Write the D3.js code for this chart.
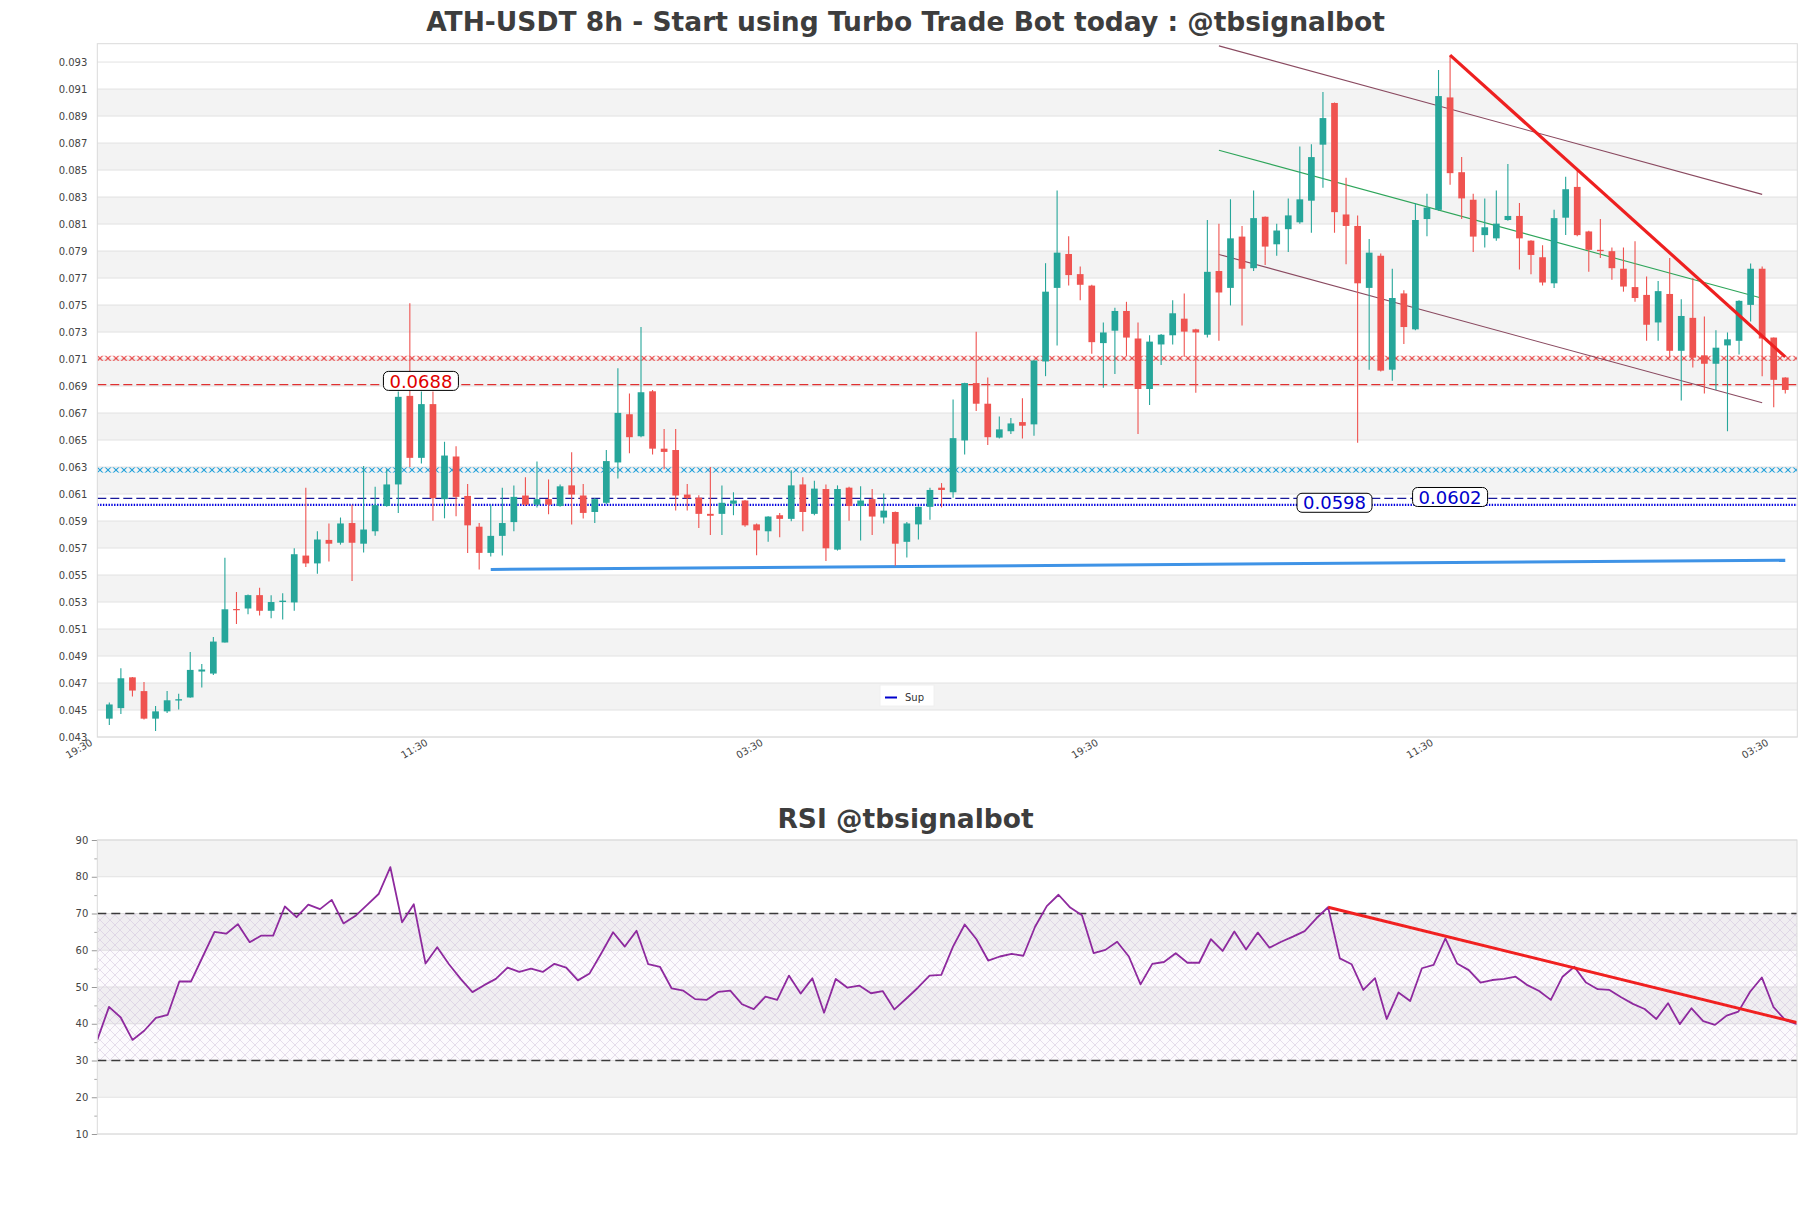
<!DOCTYPE html>
<html><head><meta charset="utf-8">
<script src="https://cdn.jsdelivr.net/npm/d3@7"></script>
<style>
body{margin:0;background:#fff;}
svg{display:block;font-family:"DejaVu Sans",sans-serif;}
</style>
</head><body>
<script>
// ---------------- DATA ----------------
const chartTitle = "ATH-USDT 8h - Start using Turbo Trade Bot today : @tbsignalbot";
const rsiTitle = "RSI @tbsignalbot";

const openPx = [
0.04436,0.04514,0.04742,0.04640,0.04436,0.04490,0.04570,0.04593,0.04785,0.04770,
0.05000,0.05248,0.05252,0.05351,0.05235,0.05300,0.05297,0.05644,0.05586,0.05760,
0.05739,0.05885,0.05732,0.05824,0.06011,0.06171,0.06827,0.06368,0.06766,0.06062,
0.06378,0.06086,0.05858,0.05664,0.05790,0.05892,0.06089,0.06021,0.06062,0.06011,
0.06164,0.06089,0.05967,0.06035,0.06334,0.06691,0.06528,0.06861,0.06436,0.06426,
0.06096,0.06073,0.05953,0.05953,0.06028,0.06052,0.05875,0.05824,0.05943,0.05916,
0.06171,0.05953,0.06137,0.05688,0.06147,0.06011,0.06062,0.05926,0.05967,0.05746,
0.05875,0.06005,0.06147,0.06113,0.06497,0.06922,0.06769,0.06518,0.06565,0.06633,
0.06616,0.07082,0.07627,0.07878,0.07729,0.07644,0.07218,0.07310,0.07456,0.07252,
0.06878,0.07208,0.07276,0.07399,0.07320,0.07280,0.07752,0.07627,0.08007,0.07773,
0.08154,0.07950,0.08062,0.08113,0.08273,0.08688,0.08997,0.08171,0.08086,0.07627,
0.07865,0.07021,0.07586,0.07320,0.08137,0.08205,0.09038,0.08484,0.08280,0.08018,
0.07994,0.08130,0.08160,0.07977,0.07854,0.07661,0.08147,0.08375,0.08045,0.07909,
0.07899,0.07769,0.07633,0.07575,0.07371,0.07582,0.07161,0.07405,0.07127,0.07065,
0.07201,0.07235,0.07501,0.07769,0.07259,0.06963];

const highPx = [
0.04555,0.04810,0.04745,0.04708,0.04530,0.04640,0.04620,0.04930,0.04841,0.05040,
0.05627,0.05375,0.05355,0.05405,0.05350,0.05365,0.05698,0.06147,0.05824,0.05882,
0.05926,0.06021,0.06307,0.06154,0.06283,0.06860,0.07514,0.06860,0.06860,0.06487,
0.06453,0.06174,0.05885,0.06021,0.06147,0.06164,0.06225,0.06341,0.06208,0.06170,
0.06409,0.06174,0.06070,0.06426,0.07031,0.06844,0.07337,0.06871,0.06582,0.06582,
0.06174,0.06090,0.06300,0.06164,0.06113,0.06055,0.05882,0.05935,0.05960,0.06276,
0.06225,0.06198,0.06171,0.06164,0.06154,0.06157,0.06137,0.06103,0.05970,0.05892,
0.06010,0.06147,0.06181,0.06800,0.06925,0.07303,0.06963,0.06674,0.06664,0.06810,
0.07090,0.07810,0.08348,0.08010,0.07786,0.07650,0.07371,0.07480,0.07524,0.07371,
0.07276,0.07285,0.07535,0.07586,0.07325,0.08130,0.08103,0.08283,0.08086,0.08348,
0.08155,0.08103,0.08290,0.08674,0.08691,0.09079,0.09000,0.08443,0.08164,0.07990,
0.07882,0.07769,0.07610,0.08256,0.08324,0.09242,0.09350,0.08596,0.08324,0.08290,
0.08348,0.08545,0.08256,0.07980,0.07943,0.08205,0.08450,0.08494,0.08050,0.08137,
0.07926,0.07926,0.07973,0.07712,0.07678,0.07848,0.07542,0.07701,0.07416,0.07314,
0.07297,0.07535,0.07807,0.07786,0.07260,0.06965];

const lowPx = [
0.04388,0.04470,0.04600,0.04430,0.04344,0.04477,0.04504,0.04590,0.04667,0.04760,
0.05000,0.05137,0.05210,0.05201,0.05180,0.05170,0.05235,0.05560,0.05510,0.05600,
0.05725,0.05456,0.05667,0.05790,0.06005,0.05960,0.06300,0.06327,0.05902,0.05920,
0.05936,0.05664,0.05541,0.05637,0.05644,0.05824,0.06011,0.06001,0.05950,0.06005,
0.05875,0.05919,0.05885,0.06025,0.06215,0.06402,0.06520,0.06392,0.06283,0.05977,
0.05977,0.05848,0.05797,0.05797,0.05943,0.05858,0.05647,0.05746,0.05780,0.05899,
0.05824,0.05943,0.05603,0.05681,0.05902,0.05756,0.05797,0.05882,0.05569,0.05630,
0.05763,0.05909,0.06001,0.06072,0.06392,0.06715,0.06463,0.06511,0.06545,0.06511,
0.06531,0.06973,0.07201,0.07644,0.07535,0.07140,0.06888,0.06990,0.07123,0.06545,
0.06759,0.07055,0.07208,0.07116,0.06851,0.07259,0.07235,0.07497,0.07348,0.07752,
0.07797,0.07865,0.07892,0.08103,0.08035,0.08368,0.08035,0.07803,0.06480,0.07021,
0.07007,0.06940,0.07212,0.07314,0.08010,0.08198,0.08392,0.08137,0.07892,0.07926,
0.07977,0.08125,0.07763,0.07729,0.07644,0.07627,0.08018,0.08010,0.07746,0.07848,
0.07688,0.07599,0.07524,0.07235,0.07235,0.07106,0.06793,0.07038,0.06844,0.06871,
0.06565,0.07133,0.07378,0.06973,0.06742,0.06844];

const closePx = [
0.04541,0.04735,0.04644,0.04436,0.04490,0.04572,0.04580,0.04797,0.04800,0.05007,
0.05246,0.05240,0.05351,0.05235,0.05300,0.05310,0.05654,0.05586,0.05763,0.05732,
0.05882,0.05739,0.05837,0.06018,0.06171,0.06820,0.06368,0.06766,0.06069,0.06385,
0.06079,0.05868,0.05664,0.05790,0.05885,0.06079,0.06021,0.06062,0.06021,0.06157,
0.06096,0.05960,0.06062,0.06344,0.06701,0.06521,0.06854,0.06436,0.06412,0.06089,
0.06069,0.05953,0.05939,0.06035,0.06052,0.05868,0.05831,0.05933,0.05916,0.06164,
0.05967,0.06140,0.05698,0.06137,0.06011,0.06052,0.05933,0.05977,0.05732,0.05882,
0.06005,0.06130,0.06130,0.06514,0.06922,0.06769,0.06521,0.06579,0.06623,0.06606,
0.07089,0.07599,0.07888,0.07722,0.07650,0.07225,0.07297,0.07456,0.07259,0.06878,
0.07229,0.07280,0.07439,0.07303,0.07297,0.07746,0.07593,0.07994,0.07769,0.08144,
0.07933,0.08052,0.08164,0.08283,0.08596,0.08885,0.08188,0.08086,0.07661,0.07888,
0.07014,0.07552,0.07337,0.08130,0.08222,0.09048,0.08477,0.08290,0.08007,0.08076,
0.08103,0.08160,0.07994,0.07871,0.07667,0.08144,0.08358,0.08018,0.07909,0.07899,
0.07773,0.07637,0.07552,0.07354,0.07603,0.07161,0.07419,0.07110,0.07065,0.07184,
0.07246,0.07531,0.07769,0.07252,0.06946,0.06871];

const rsiValues = [
35.6,44.6,41.7,35.6,38.1,41.6,42.4,51.5,51.5,58.3,
65.0,64.5,67.1,62.2,64.0,64.0,71.9,69.0,72.4,71.2,
73.7,67.3,69.3,72.3,75.3,82.6,67.6,72.5,56.4,60.8,
56.2,52.2,48.6,50.5,52.2,55.3,54.1,55.0,54.1,56.3,
55.3,51.8,53.7,59.2,64.9,61.0,65.3,56.2,55.5,49.6,
49.0,46.7,46.5,48.7,49.0,45.3,44.0,47.4,46.5,53.1,
48.2,52.4,43.0,52.2,49.8,50.4,48.3,48.9,43.9,46.8,
49.8,53.1,53.3,61.0,67.0,63.0,57.2,58.3,59.0,58.5,
66.4,72.0,75.1,71.6,69.5,59.2,60.1,62.3,58.3,50.7,
56.3,56.8,59.2,56.6,56.6,63.0,59.8,65.1,60.2,64.8,
60.7,62.3,63.7,65.2,68.7,71.7,57.8,56.2,49.2,52.4,
41.3,48.5,46.2,55.1,56.0,63.2,56.4,54.6,51.2,51.9,
52.2,52.8,50.5,48.9,46.5,52.8,55.5,51.2,49.4,49.2,
47.2,45.4,44.0,41.3,45.6,39.9,44.2,40.7,39.7,42.2,
43.3,48.7,52.6,44.5,41.0,39.9];

const xTickIndex = [0, 29, 58, 87, 116, 145];
const xTickLabels = ["19:30", "11:30", "03:30", "19:30", "11:30", "03:30"];

const priceTicks = [0.043,0.045,0.047,0.049,0.051,0.053,0.055,0.057,0.059,0.061,0.063,0.065,0.067,
  0.069,0.071,0.073,0.075,0.077,0.079,0.081,0.083,0.085,0.087,0.089,0.091,0.093];
const priceTickLabels = ["0.043","0.045","0.047","0.049","0.051","0.053","0.055","0.057","0.059","0.061",
  "0.063","0.065","0.067","0.069","0.071","0.073","0.075","0.077","0.079","0.081","0.083","0.085",
  "0.087","0.089","0.091","0.093"];
const rsiTicks = [10, 20, 30, 40, 50, 60, 70, 80, 90];
const rsiMinorTicks = [15, 25, 35, 45, 55, 65, 75, 85];
const rsiLevels = [30, 70];

// horizontal levels (price)
const hatchLevels = [{p: 0.07105, name: "red"}, {p: 0.06278, name: "cyan"}];
const resistLevel = 0.0691;
const supportDashLevel = 0.06068;
const supLevel = 0.06019;

// price labels: text, candle index, price
const priceLabels = [
  {text: "0.0688", i: 26.96, p: 0.06938, kind: "red"},
  {text: "0.0598", i: 106.0, p: 0.06035, kind: "blue"},
  {text: "0.0602", i: 116.0, p: 0.06078, kind: "blue"}
];

// trend lines: [index, price] pairs
const supportTrend = [[33, 0.05541], [145, 0.05610]];
const channelUpper = [[96, 0.09420], [143, 0.08320]];
const channelMid   = [[96, 0.08647], [143, 0.07550]];
const channelLower = [[96, 0.07875], [143, 0.06776]];
const resistTrend  = [[116, 0.09351], [145, 0.07116]];
const rsiTrend     = [[105, 71.7], [145, 40.3]];
const legendLabels = ["Sup"];

// ---------------- CHART ----------------
const W = 1811, H = 1208;
const svg = d3.select("body").append("svg").attr("width", W).attr("height", H);
const defs = svg.append("defs");

const mainBox = {l: 97.3, r: 1797.3, t: 43.7, b: 737};
const rsiBox = {l: 97.3, r: 1797, t: 840, b: 1134};

const x = d3.scaleLinear().domain([-1.04, 146.04]).range([mainBox.l, mainBox.r]);
const y = d3.scaleLinear().domain([0.043, 0.09436]).range([mainBox.b, mainBox.t]);
const xr = d3.scaleLinear().domain([0, 145]).range([rsiBox.l, rsiBox.r]);
const yr = d3.scaleLinear().domain([10, 90]).range([rsiBox.b, rsiBox.t]);

const UP = "#26a69a", DOWN = "#ef5350";
const hatchColors = {red: "#e63a3a", cyan: "#1fa0da"};

defs.append("clipPath").attr("id", "clipMain").append("rect")
  .attr("x", mainBox.l).attr("y", mainBox.t).attr("width", mainBox.r - mainBox.l).attr("height", mainBox.b - mainBox.t);
defs.append("clipPath").attr("id", "clipRsi").append("rect")
  .attr("x", rsiBox.l).attr("y", rsiBox.t).attr("width", rsiBox.r - rsiBox.l).attr("height", rsiBox.b - rsiBox.t);

hatchLevels.forEach(h => {
  const pat = defs.append("pattern").attr("id", "hatch-" + h.name)
    .attr("patternUnits", "userSpaceOnUse").attr("width", 8).attr("height", 8)
    .attr("patternTransform", `translate(0,${y(h.p) - 4})`);
  pat.append("path").attr("d", "M-1,-1 L9,9 M-1,9 L9,-1")
    .attr("stroke", hatchColors[h.name]).attr("stroke-width", 1.1).attr("fill", "none");
});
const rp = defs.append("pattern").attr("id", "rsiHatch")
  .attr("patternUnits", "userSpaceOnUse").attr("width", 10).attr("height", 10);
rp.append("path").attr("d", "M-1,-1 L11,11 M-1,11 L11,-1 M-6,4 L4,-6 M6,16 L16,6 M4,16 L-6,6 M16,4 L6,-6")
  .attr("stroke", "#d2c4dc").attr("stroke-width", 0.55).attr("fill", "none");

// Titles
svg.append("text").attr("x", W / 2).attr("y", 30.5).attr("text-anchor", "middle")
  .attr("font-size", 26.5).attr("font-weight", "bold").attr("fill", "#3d3d3d").text(chartTitle);
svg.append("text").attr("x", W / 2).attr("y", 827.5).attr("text-anchor", "middle")
  .attr("font-size", 26.5).attr("font-weight", "bold").attr("fill", "#3d3d3d").text(rsiTitle);

// ---- main panel background ----
const gMain = svg.append("g");
const gBg = gMain.append("g");
priceTicks.forEach((t, i) => {
  if (i % 2 === 1 && i + 1 < priceTicks.length) {
    gBg.append("rect").attr("x", mainBox.l).attr("width", mainBox.r - mainBox.l)
      .attr("y", y(priceTicks[i + 1])).attr("height", y(priceTicks[i]) - y(priceTicks[i + 1]))
      .attr("fill", "#f3f3f3");
  }
});
gBg.selectAll("line.grid").data(priceTicks).join("line")
  .attr("x1", mainBox.l).attr("x2", mainBox.r)
  .attr("y1", d => y(d)).attr("y2", d => y(d))
  .attr("stroke", "#e2e2e2").attr("stroke-width", 1);

// y axis
const yAxis = d3.axisLeft(y).tickValues(priceTicks).tickFormat((d, i) => priceTickLabels[i])
  .tickSize(0).tickPadding(10);
const gy = gMain.append("g").attr("transform", `translate(${mainBox.l},0)`).call(yAxis);
gy.select(".domain").remove();
gy.selectAll("text").attr("font-size", 10).attr("fill", "#444").attr("font-family", "DejaVu Sans");

// x tick labels
gMain.selectAll("text.xt").data(xTickIndex).join("text")
  .attr("class", "xt")
  .attr("transform", d => `translate(${x(d) - 16},744.5) rotate(-30)`)
  .attr("text-anchor", "end").attr("font-size", 10).attr("fill", "#444")
  .text((d, i) => xTickLabels[i]);

const gPlot = gMain.append("g").attr("clip-path", "url(#clipMain)");

// hatched levels
gPlot.selectAll("rect.hatch").data(hatchLevels).join("rect")
  .attr("x", mainBox.l).attr("width", mainBox.r - mainBox.l)
  .attr("y", d => y(d.p) - 2.6).attr("height", 5.2)
  .attr("fill", d => `url(#hatch-${d.name})`);

// horizontal lines
gPlot.append("line").attr("x1", mainBox.l).attr("x2", mainBox.r)
  .attr("y1", y(resistLevel)).attr("y2", y(resistLevel))
  .attr("stroke", "#e03030").attr("stroke-width", 1.2).attr("stroke-dasharray", "9,4");
gPlot.append("line").attr("x1", mainBox.l).attr("x2", mainBox.r)
  .attr("y1", y(supportDashLevel)).attr("y2", y(supportDashLevel))
  .attr("stroke", "#1a1a9c").attr("stroke-width", 1.2).attr("stroke-dasharray", "9,4");
gPlot.append("line").attr("x1", mainBox.l).attr("x2", mainBox.r)
  .attr("y1", y(supLevel)).attr("y2", y(supLevel))
  .attr("stroke", "#0000e0").attr("stroke-width", 2.2).attr("stroke-dasharray", "1.4,1.4");

// channel lines
const tl = d3.line().x(d => x(d[0])).y(d => y(d[1]));
gPlot.append("path").attr("d", tl(channelUpper)).attr("stroke", "#8a4a60").attr("stroke-width", 1.1).attr("fill", "none");
gPlot.append("path").attr("d", tl(channelLower)).attr("stroke", "#8a4a60").attr("stroke-width", 1.1).attr("fill", "none");
gPlot.append("path").attr("d", tl(channelMid)).attr("stroke", "#2ea55a").attr("stroke-width", 1.1).attr("fill", "none");

// support trend
gPlot.append("path").attr("d", tl(supportTrend)).attr("stroke", "#3f93e6").attr("stroke-width", 3).attr("fill", "none");

// candles
const candles = openPx.map((o, i) => ({i, o, h: highPx[i], l: lowPx[i], c: closePx[i]}));
const bodyW = 6.7;
gPlot.selectAll("line.wick").data(candles).join("line")
  .attr("x1", d => x(d.i)).attr("x2", d => x(d.i))
  .attr("y1", d => y(d.h)).attr("y2", d => y(d.l))
  .attr("stroke", d => d.c >= d.o ? UP : DOWN).attr("stroke-width", 1.1);
gPlot.selectAll("rect.body").data(candles).join("rect")
  .attr("x", d => x(d.i) - bodyW / 2).attr("width", bodyW)
  .attr("y", d => y(Math.max(d.o, d.c)))
  .attr("height", d => Math.max(1.2, Math.abs(y(d.o) - y(d.c))))
  .attr("fill", d => d.c >= d.o ? UP : DOWN);

// resistance trend
gPlot.append("path").attr("d", tl(resistTrend)).attr("stroke", "#ee2020").attr("stroke-width", 3.2).attr("fill", "none");

// price labels
priceLabels.forEach(lb => {
  const cx = x(lb.i), cy = y(lb.p);
  const g = gMain.append("g");
  g.append("rect").attr("x", cx - 37.5).attr("y", cy - 9.5).attr("width", 75).attr("height", 19)
    .attr("rx", 5).attr("ry", 5).attr("fill", "#fff").attr("stroke", "#000").attr("stroke-width", 1);
  g.append("text").attr("x", cx).attr("y", cy + 6.6).attr("text-anchor", "middle")
    .attr("font-size", 18).attr("fill", lb.kind === "red" ? "#e00000" : "#0000cc").text(lb.text);
});

// legend
const lg = gMain.append("g");
lg.append("rect").attr("x", 880).attr("y", 685).attr("width", 54).attr("height", 21)
  .attr("fill", "#fff").attr("stroke", "#f0f0f0");
lg.append("line").attr("x1", 885).attr("x2", 897).attr("y1", 697.5).attr("y2", 697.5)
  .attr("stroke", "#0000cc").attr("stroke-width", 2);
lg.append("text").attr("x", 905).attr("y", 701).attr("font-size", 10).attr("fill", "#333").text(legendLabels[0]);

// main border
gMain.append("rect").attr("x", mainBox.l).attr("y", mainBox.t)
  .attr("width", mainBox.r - mainBox.l).attr("height", mainBox.b - mainBox.t)
  .attr("fill", "none").attr("stroke", "#dadada").attr("stroke-width", 1);

// ---- RSI panel ----
const gR = svg.append("g");
rsiTicks.forEach((t, i) => {
  if (i % 2 === 1 && i + 1 < rsiTicks.length) {
    gR.append("rect").attr("x", rsiBox.l).attr("width", rsiBox.r - rsiBox.l)
      .attr("y", yr(rsiTicks[i + 1])).attr("height", yr(rsiTicks[i]) - yr(rsiTicks[i + 1]))
      .attr("fill", "#f3f3f3");
  }
});
gR.selectAll("line.rg").data(rsiTicks).join("line")
  .attr("x1", rsiBox.l).attr("x2", rsiBox.r)
  .attr("y1", d => yr(d)).attr("y2", d => yr(d))
  .attr("stroke", "#e2e2e2").attr("stroke-width", 1);
gR.append("rect").attr("x", rsiBox.l).attr("width", rsiBox.r - rsiBox.l)
  .attr("y", yr(rsiLevels[1])).attr("height", yr(rsiLevels[0]) - yr(rsiLevels[1]))
  .attr("fill", "rgba(200,170,220,0.06)");
gR.append("rect").attr("x", rsiBox.l).attr("width", rsiBox.r - rsiBox.l)
  .attr("y", yr(rsiLevels[1])).attr("height", yr(rsiLevels[0]) - yr(rsiLevels[1]))
  .attr("fill", "url(#rsiHatch)");
gR.selectAll("line.lvl").data(rsiLevels).join("line")
  .attr("x1", rsiBox.l).attr("x2", rsiBox.r)
  .attr("y1", d => yr(d)).attr("y2", d => yr(d))
  .attr("stroke", "#3a3a3a").attr("stroke-width", 1.3).attr("stroke-dasharray", "9,5");

const ryAxis = d3.axisLeft(yr).tickValues(rsiTicks).tickSize(5.5).tickPadding(3.5);
const gry = gR.append("g").attr("transform", `translate(${rsiBox.l},0)`).call(ryAxis);
gry.select(".domain").remove();
gry.selectAll("line").attr("stroke", "#999");
gry.selectAll("text").attr("font-size", 10).attr("fill", "#444").attr("font-family", "DejaVu Sans");
const ryMinor = d3.axisLeft(yr).tickValues(rsiMinorTicks).tickSize(3).tickFormat("");
const grm = gR.append("g").attr("transform", `translate(${rsiBox.l},0)`).call(ryMinor);
grm.select(".domain").remove();
grm.selectAll("line").attr("stroke", "#aaa");

const gRp = gR.append("g").attr("clip-path", "url(#clipRsi)");
const rsiLine = d3.line().x((d, i) => xr(i)).y(d => yr(d));
gRp.append("path").attr("d", rsiLine(rsiValues)).attr("fill", "none")
  .attr("stroke", "#8e2a9e").attr("stroke-width", 1.8).attr("stroke-linejoin", "round");
const rtl = d3.line().x(d => xr(d[0])).y(d => yr(d[1]));
gRp.append("path").attr("d", rtl(rsiTrend)).attr("fill", "none")
  .attr("stroke", "#f02020").attr("stroke-width", 3);

gR.append("rect").attr("x", rsiBox.l).attr("y", rsiBox.t)
  .attr("width", rsiBox.r - rsiBox.l).attr("height", rsiBox.b - rsiBox.t)
  .attr("fill", "none").attr("stroke", "#dadada").attr("stroke-width", 1);
</script>
</body></html>
